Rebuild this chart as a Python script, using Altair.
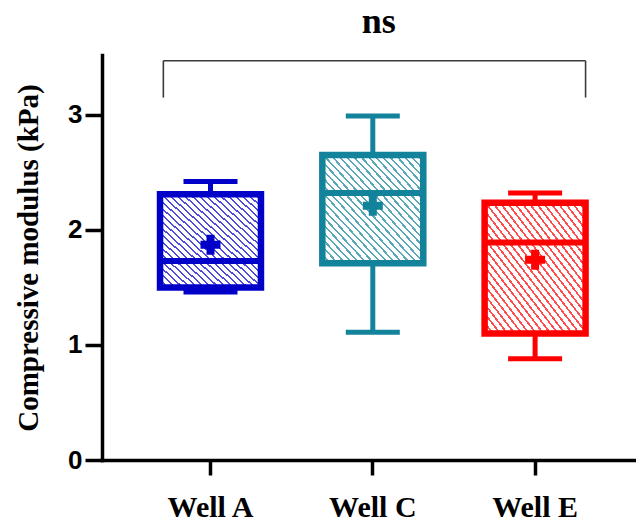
import altair as alt
import pandas as pd

# ---- data ----
categories = ["Well A", "Well C", "Well E"]
whisker_low = [1.46, 1.11, 0.88]
q1 = [1.50, 1.71, 1.10]
median = [1.73, 2.32, 1.89]
q3 = [2.31, 2.65, 2.235]
whisker_high = [2.42, 2.99, 2.32]
mean = [1.87, 2.21, 1.74]
colors = ["#0000C8", "#12839A", "#FF0000"]

bracket_left = ["Well A"]
bracket_right = ["Well E"]
bracket_top = [3.47]
bracket_drop = [3.15]
sig_label = ["ns"]
sig_at = ["Well C"]
sig_y = [3.71]

df = pd.DataFrame({
    "cat": categories, "lo": whisker_low, "q1": q1, "med": median,
    "q3": q3, "hi": whisker_high, "mean": mean,
})
bdf = pd.DataFrame({"left": bracket_left, "right": bracket_right,
                    "top": bracket_top, "drop": bracket_drop,
                    "label": sig_label, "at": sig_at, "ly": sig_y})

xscale = alt.Scale(domain=categories, paddingInner=0.378, paddingOuter=0.331, align=0.54)
yscale = alt.Scale(domain=[0, 3.52], nice=False, zero=True)
cscale = alt.Scale(domain=categories, range=colors)

x_enc = alt.X("cat:N", scale=xscale, sort=categories, title=None,
              axis=alt.Axis(labelFont="Liberation Serif", labelFontWeight="bold",
                            labelFontSize=30, labelColor="black", labelAngle=0,
                            labelPadding=17, tickSize=15, tickWidth=3.5,
                            tickColor="black", domainColor="black", domainWidth=3.5))
y_axis = alt.Axis(values=[0, 1, 2, 3], format="d", grid=False, labelFont="Liberation Sans",
                  labelFontWeight="bold", labelFontSize=26, labelColor="black",
                  labelPadding=3, tickSize=17, tickWidth=3.5, tickColor="black",
                  domainColor="black", domainWidth=3.5,
                  title="Compressive modulus (kPa)", titleFont="Liberation Serif",
                  titleFontWeight="bold", titleFontSize=29, titleColor="black",
                  titlePadding=24)

base = alt.Chart(df)
col = alt.Color("cat:N", scale=cscale, legend=None)


def tint(hexcol, amt):
    r, g, b = (int(hexcol[i:i + 2], 16) for i in (1, 3, 5))
    r, g, b = (int(v + (255 - v) * amt) for v in (r, g, b))
    return f"#{r:02x}{g:02x}{b:02x}"


def hatch(color, n=28, frac=0.3):
    c = tint(color, 0.3)
    stops = []
    for k in range(n):
        a = k / n
        m = (k + frac) / n
        e = (k + 1) / n
        stops += [alt.GradientStop(color=c, offset=a), alt.GradientStop(color=c, offset=m),
                  alt.GradientStop(color="white", offset=m), alt.GradientStop(color="white", offset=e)]
    return alt.LinearGradient(gradient="linear", stops=stops, x1=0, y1=1, x2=1, y2=0)


whisk_hi = base.mark_rule(strokeWidth=5, opacity=1).encode(
    x=x_enc, y=alt.Y("q3:Q", scale=yscale, axis=y_axis), y2="hi:Q", color=col)
whisk_lo = base.mark_rule(strokeWidth=5, opacity=1).encode(
    x=x_enc, y=alt.Y("lo:Q", scale=yscale), y2="q1:Q", color=col)

boxes = []
for c, colr in zip(categories, colors):
    boxes.append(
        base.transform_filter(alt.datum.cat == c).mark_bar(
            fill=hatch(colr), stroke=colr, strokeWidth=6.5, strokeJoin="miter", opacity=1
        ).encode(x=x_enc, y=alt.Y("q1:Q", scale=yscale), y2="q3:Q")
    )

med = base.mark_tick(size=101, thickness=6, opacity=1).encode(
    x=x_enc, y=alt.Y("med:Q", scale=yscale), color=col)
cap_hi = base.mark_tick(size=54, thickness=5, opacity=1).encode(
    x=x_enc, y=alt.Y("hi:Q", scale=yscale), color=col)
cap_lo = base.mark_tick(size=54, thickness=5, opacity=1).encode(
    x=x_enc, y=alt.Y("lo:Q", scale=yscale), color=col)
mean_pt = base.mark_point(shape="cross", filled=True, size=400, opacity=1).encode(
    x=x_enc, y=alt.Y("mean:Q", scale=yscale), color=col)

bb = alt.Chart(bdf)
br_h = bb.mark_rule(color="#3a3a3a", strokeWidth=1.6).encode(
    x=alt.X("left:N", scale=xscale, bandPosition=0.033),
    x2=alt.X2("right", bandPosition=1),
    y=alt.Y("top:Q", scale=yscale))
br_l = bb.mark_rule(color="#3a3a3a", strokeWidth=1.6).encode(
    x=alt.X("left:N", scale=xscale, bandPosition=0.033),
    y=alt.Y("top:Q", scale=yscale), y2="drop:Q")
br_r = bb.mark_rule(color="#3a3a3a", strokeWidth=1.6).encode(
    x=alt.X("right:N", scale=xscale, bandPosition=1),
    y=alt.Y("top:Q", scale=yscale), y2="drop:Q")
sig = bb.mark_text(font="Liberation Serif", fontWeight="bold", fontSize=36,
                   color="black", align="center", baseline="alphabetic", dx=6,
                   clip=False).encode(
    x=alt.X("at:N", scale=xscale),
    y=alt.Y("ly:Q", scale=yscale), text="label:N")

chart = alt.layer(
    whisk_hi, whisk_lo, *boxes, med, cap_hi, cap_lo, mean_pt, br_h, br_l, br_r, sig
).properties(
    width=533, height=405,
    autosize=alt.AutoSizeParams(type="none"),
    padding={"left": 102, "top": 55, "right": 1, "bottom": 63},
).configure_view(stroke=None).configure_axis(domainCap="square")

chart.save("out.html", embed_options={"renderer": "svg", "actions": False})
